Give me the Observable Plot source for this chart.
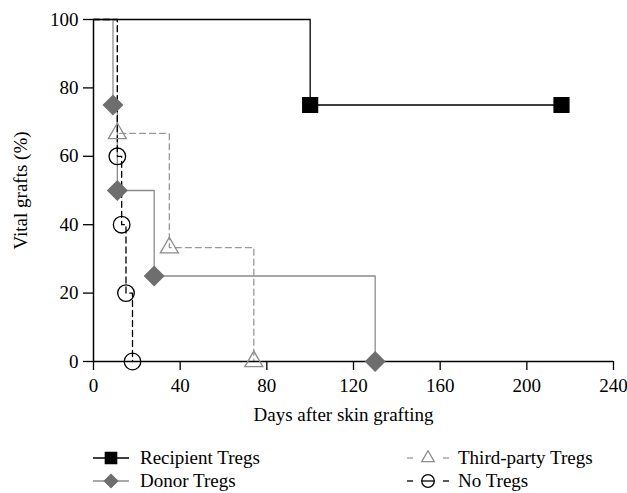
<!DOCTYPE html>
<html><head><meta charset="utf-8">
<script src="https://cdn.jsdelivr.net/npm/d3@7"></script>
<script src="https://cdn.jsdelivr.net/npm/@observablehq/plot@0.6"></script>
<style>
body{margin:0;background:#fff;font-family:"Liberation Serif",serif;}
#legend{position:relative;width:627px;height:58px;font-size:19px;color:#000;}
.item{position:absolute;height:24px;}
.item svg{position:absolute;left:0;top:0;}
.item span{position:absolute;top:0;line-height:24px;white-space:nowrap;}
</style></head><body>
<div id="chart"></div><div id="legend"></div>
<script>
// ---- data ----
const seriesNames = ["Recipient Tregs", "Donor Tregs", "Third-party Tregs", "No Tregs"];
const recipientDays = [0, 100, 216];
const recipientVital = [100, 75, 75];
const donorDays = [0, 9, 11, 28, 130];
const donorVital = [100, 75, 50, 25, 0];
const thirdDays = [0, 11, 35, 74];
const thirdVital = [100, 66.7, 33.3, 0];
const noDays = [0, 11, 13, 15, 18];
const noVital = [100, 60, 40, 20, 0];
const xTicks = [0, 40, 80, 120, 160, 200, 240];
const yTicks = [0, 20, 40, 60, 80, 100];
const xLabel = "Days after skin grafting";
const yLabel = "Vital grafts (%)";

// ---- styles ----
const styles = {
  "Recipient Tregs": {stroke: "#000", dash: null, symbol: "square", fill: "#000", mstroke: "#000", r: 8.4, lr: 6.4},
  "Donor Tregs": {stroke: "#8c8c8c", dash: null, symbol: "diamond2", fill: "#6e6e6e", mstroke: "#6e6e6e", r: 8.6, lr: 6},
  "Third-party Tregs": {stroke: "#999", dash: "6,4", symbol: "triangle2", fill: "none", mstroke: "#8c8c8c", r: 8.6, lr: 6},
  "No Tregs": {stroke: "#000", dash: "6,4", symbol: "circle", fill: "none", mstroke: "#000", r: 8.3, lr: 6.3}
};
const dayArrays = [recipientDays, donorDays, thirdDays, noDays];
const vitalArrays = [recipientVital, donorVital, thirdVital, noVital];
const rows = [];
seriesNames.forEach((s, k) => dayArrays[k].forEach((d, i) => rows.push({series: s, day: d, vital: vitalArrays[k][i], idx: i})));

const drawOrder = ["Donor Tregs", "Third-party Tregs", "No Tregs", "Recipient Tregs"];
const lineMarks = drawOrder.map(s => Plot.line(rows.filter(r => r.series === s), {
  x: "day", y: "vital", curve: "step-after", stroke: styles[s].stroke,
  strokeDasharray: styles[s].dash, strokeWidth: 1.3
}));
const dotMarks = drawOrder.map(s => Plot.dot(rows.filter(r => r.series === s && r.idx > 0), {
  x: "day", y: "vital", symbol: () => styles[s].symbol, r: styles[s].r,
  fill: styles[s].fill, stroke: styles[s].mstroke, strokeWidth: 1.3
}));

const chart = Plot.plot({
  width: 627, height: 435,
  marginLeft: 93, marginRight: 14, marginTop: 19, marginBottom: 74,
  style: {fontFamily: "Liberation Serif", fontSize: "19px", color: "#000", background: "#fff"},
  x: {domain: [0, 240]},
  y: {domain: [0, 100]},
  symbol: {type: "identity"},
  marks: [
    Plot.axisX({ticks: xTicks, tickSize: 9, tickPadding: 8, label: null, strokeWidth: 1.3}),
    Plot.axisY({ticks: yTicks, tickSize: 10, tickPadding: 5, label: null, strokeWidth: 1.3}),
    Plot.text([xLabel], {frameAnchor: "bottom", dy: 53, dx: -10, text: d => d, fontSize: 19, lineAnchor: "middle"}),
    Plot.text([yLabel], {frameAnchor: "left", dx: -73, rotate: -90, text: d => d, fontSize: 19, lineAnchor: "middle", textAnchor: "middle"}),
    ...lineMarks,
    Plot.ruleY([0], {stroke: "#000", strokeWidth: 1.5}),
    Plot.ruleX([0], {stroke: "#000", strokeWidth: 1.5}),
    ...dotMarks
  ]
});
document.getElementById("chart").appendChild(chart);

// ---- legend ----
const legend = d3.select("#legend");
const legendPos = {
  "Recipient Tregs": {left: 93, top: 11, w: 36, text: 47},
  "Donor Tregs": {left: 93, top: 34, w: 36, text: 47},
  "Third-party Tregs": {left: 407, top: 11, w: 42, text: 51},
  "No Tregs": {left: 407, top: 34, w: 42, text: 51}
};
seriesNames.forEach(s => {
  const p = legendPos[s], st = styles[s];
  const item = legend.append("div").attr("class", "item").style("left", p.left + "px").style("top", p.top + "px").style("width", "240px");
  const svg = item.append("svg").attr("width", p.w).attr("height", 24);
  const cx = p.w / 2;
  if (st.dash) {
    svg.append("line").attr("x1", 0).attr("x2", 6).attr("y1", 12).attr("y2", 12).attr("stroke", st.stroke).attr("stroke-width", 1.3);
    svg.append("line").attr("x1", p.w - 6).attr("x2", p.w).attr("y1", 12).attr("y2", 12).attr("stroke", st.stroke).attr("stroke-width", 1.3);
    if (st.symbol === "circle") svg.append("line").attr("x1", cx - st.lr).attr("x2", cx + st.lr).attr("y1", 12).attr("y2", 12).attr("stroke", st.stroke).attr("stroke-width", 1.3);
  } else {
    svg.append("line").attr("x1", 0).attr("x2", p.w).attr("y1", 12).attr("y2", 12).attr("stroke", st.stroke).attr("stroke-width", 1.5);
  }
  const symMap = {square: d3.symbolSquare, diamond2: d3.symbolDiamond2, triangle2: d3.symbolTriangle2, circle: d3.symbolCircle};
  svg.append("path").attr("d", d3.symbol(symMap[st.symbol], Math.PI * st.lr * st.lr)())
    .attr("transform", `translate(${cx},12)`).attr("fill", st.fill).attr("stroke", st.mstroke).attr("stroke-width", 1.3);
  item.append("span").style("left", p.text + "px").text(s);
});
</script>
</body></html>
